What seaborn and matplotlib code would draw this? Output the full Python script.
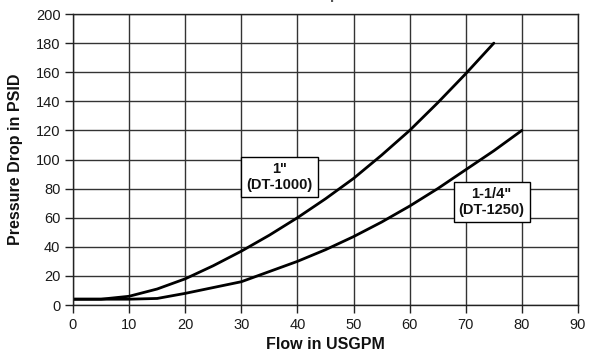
import matplotlib
matplotlib.use("Agg")
import matplotlib.pyplot as plt
import seaborn as sns
import pandas as pd

# Values
flow_1in = [0, 5, 10, 15, 20, 25, 30, 35, 40, 45, 50, 55, 60, 65, 70, 75]
psid_1in = [4, 4, 6, 11, 18, 27, 37, 48, 60, 73, 87, 103, 120, 139, 159, 180]

flow_114in = [0, 5, 10, 15, 20, 25, 30, 35, 40, 45, 50, 55, 60, 65, 70, 75, 80]
psid_114in = [4, 4, 4, 4.5, 8, 12, 16, 23, 30, 38, 47, 57, 68, 80, 93, 106, 120]

x_ticks = [0, 10, 20, 30, 40, 50, 60, 70, 80, 90]
y_ticks = [0, 20, 40, 60, 80, 100, 120, 140, 160, 180, 200]

sns.set_theme(style="white")
plt.rcParams["font.family"] = ["Liberation Sans", "DejaVu Sans"]

df = pd.concat([
    pd.DataFrame({"Flow": flow_1in, "PSID": psid_1in, "Size": '1" (DT-1000)'}),
    pd.DataFrame({"Flow": flow_114in, "PSID": psid_114in, "Size": '1-1/4" (DT-1250)'}),
])

fig = plt.figure(figsize=(5.9, 3.52), dpi=100)
ax = fig.add_axes([0.1237, 0.1335, 0.856, 0.8267])

sns.lineplot(data=df, x="Flow", y="PSID", units="Size", estimator=None,
             color="black", linewidth=2, legend=False, ax=ax)

ax.set_xlim(0, 90)
ax.set_ylim(0, 200)
ax.set_xticks(x_ticks)
ax.set_yticks(y_ticks)
ax.grid(True, color="#333333", linewidth=1)
for s in ax.spines.values():
    s.set_color("#222222")
    s.set_linewidth(1)
ax.tick_params(axis="both", direction="out", length=6, width=1, color="#222222",
               labelsize=10.5, labelcolor="#1a1a1a", pad=3, left=True, bottom=True)

ax.set_xlabel("Flow in USGPM", fontsize=11.5, fontweight="bold", labelpad=4, color="#111111")
ax.set_ylabel("Pressure Drop in PSID", fontsize=11.5, fontweight="bold", labelpad=9, color="#111111")

box = dict(boxstyle="square,pad=0.35", facecolor="white", edgecolor="black", linewidth=1)
ax.text(36.8, 88, '1"\n(DT-1000)', ha="center", va="center", fontsize=10.5,
        fontweight="bold", bbox=box, linespacing=1.15, color="#111111")
ax.text(74.6, 70.8, '1-1/4"\n(DT-1250)', ha="center", va="center", fontsize=10.5,
        fontweight="bold", bbox=box, linespacing=1.15, color="#111111")

# Title is cropped off at the top of the reference image
fig.text(0.54, 1 + 1.0 / 352, "Pressure Drop vs. Flow", ha="center", va="baseline",
         fontsize=11, fontweight="bold", color="#555555")

fig.savefig("out.png", dpi=100)
